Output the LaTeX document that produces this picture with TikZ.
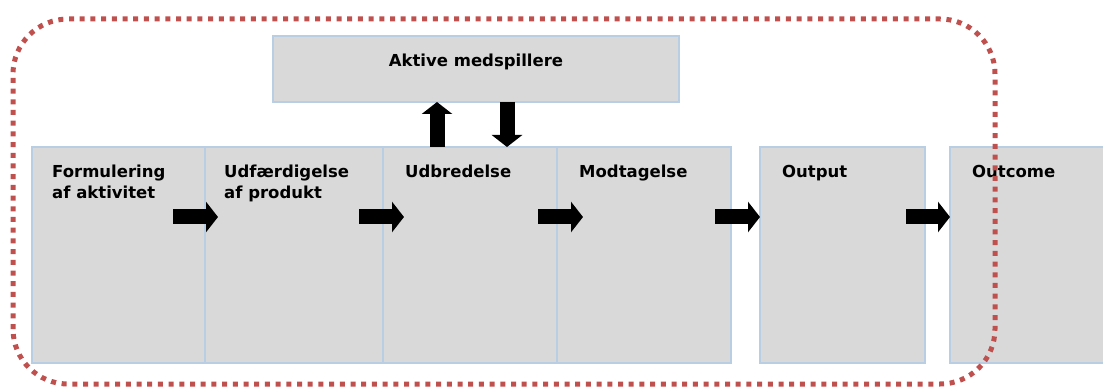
\documentclass[tikz,border=0pt]{standalone}
\usepackage{fontspec}
\setmainfont{DejaVu Sans}
\usepackage{tikz}
\usetikzlibrary{arrows.meta,positioning}

\definecolor{boxfill}{HTML}{D9D9D9}
\definecolor{boxline}{HTML}{B9CDE5}
\definecolor{dotred}{HTML}{C0504D}

\tikzset{
  stage/.style={draw=boxline, line width=2.5pt, fill=boxfill, minimum height=216pt, inner sep=0pt, outer sep=0pt},
  stagetext/.style={anchor=base west, inner sep=0pt, align=left, font=\bfseries\fontsize{16.5}{21}\selectfont},
  fatarrow/.style={line width=15pt, -{Triangle[width=30pt,length=12pt]}},
}

\begin{document}
\begin{tikzpicture}[x=1pt,y=1pt]
  \clip (0,0) rectangle (1103,386);
  % stages
  \node[stage, minimum width=173pt] (form) at (118.5,131) {};
  \node[stage, minimum width=178pt, right=0pt of form] (prod) {};
  \node[stage, minimum width=174pt, right=0pt of prod] (udbr) {};
  \node[stage, minimum width=174pt, right=0pt of udbr] (modt) {};
  \node[stage, minimum width=165pt, right=29pt of modt] (outp) {};
  \node[stage, minimum width=170pt, right=25pt of outp] (outc) {};
  \node[stage, minimum width=406pt, minimum height=66pt] (akt) at (476,317) {};

  % labels (two-line ones sit on their last baseline)
  \node[stagetext] (formtxt) at ([shift={(20,-52)}]form.north west) {Formulering\\af aktivitet};
  \node[stagetext] (prodtxt) at ([shift={(19,-52)}]prod.north west) {Udfærdigelse\\af produkt};
  \node[stagetext] (udbrtxt) at ([shift={(22,-31)}]udbr.north west) {Udbredelse};
  \node[stagetext] (modttxt) at ([shift={(22,-31)}]modt.north west) {Modtagelse};
  \node[stagetext] (outptxt) at ([shift={(22,-31)}]outp.north west) {Output};
  \node[stagetext] (outctxt) at ([shift={(22,-31)}]outc.north west) {Outcome};
  \node[stagetext, anchor=base] (akttxt) at ([yshift=2pt]akt.center) {Aktive medspillere};

  % arrows
  \draw[fatarrow] ([shift={(-32,-70)}]form.north east) -- ([shift={(13,-70)}]form.north east);
  \draw[fatarrow] ([shift={(-24,-70)}]prod.north east) -- ([shift={(21,-70)}]prod.north east);
  \draw[fatarrow] ([shift={(-19,-70)}]udbr.north east) -- ([shift={(26,-70)}]udbr.north east);
  \draw[fatarrow] ([shift={(-16,-70)}]modt.north east) -- ([yshift=-70pt]outp.north west);
  \draw[fatarrow] ([shift={(-19,-70)}]outp.north east) -- ([yshift=-70pt]outc.north west);
  \draw[fatarrow] ([xshift=-33pt]udbr.north) -- ([xshift=-33pt]udbr.north |- akt.south);
  \draw[fatarrow] ([xshift=37pt]udbr.north |- akt.south) -- ([xshift=37pt]udbr.north);

  % dotted frame
  \draw[dotred, line width=5pt, dash pattern=on 5pt off 5.7pt, rounded corners=55pt] (13,2) rectangle (995,367);
\end{tikzpicture}
\end{document}
